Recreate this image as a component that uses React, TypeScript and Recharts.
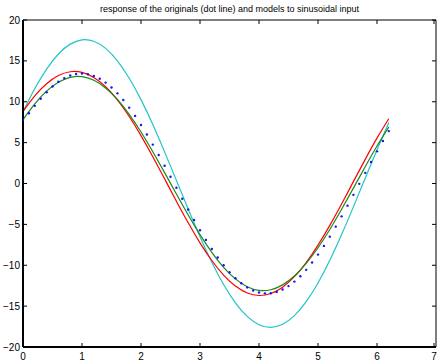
import { LineChart, Line, XAxis, YAxis, ReferenceArea } from "recharts";

const xTicks = [0, 1, 2, 3, 4, 5, 6, 7];
const yTicks = [-20, -15, -10, -5, 0, 5, 10, 15, 20];

// sample positions of the model curves
const lineX = [
  0, 0.2, 0.4, 0.6, 0.8, 1, 1.2, 1.4, 1.6, 1.8, 2, 2.2, 2.4, 2.6, 2.8, 3,
  3.2, 3.4, 3.6, 3.8, 4, 4.2, 4.4, 4.6, 4.8, 5, 5.2, 5.4, 5.6, 5.8, 6, 6.2
];

const cyanModel = [
  8.75, 11.61, 14.0, 15.84, 17.05, 17.58, 17.4, 16.53, 15.01, 12.88, 10.26, 7.22, 3.87, 0.38,
  -3.12, -6.5, -9.62, -12.36, -14.6, -16.26, -17.27, -17.6, -17.22, -16.16, -14.45, -12.17,
  -9.4, -6.25, -2.86, 0.65, 4.13, 7.45
];

const redModel = [
  8.83, 10.73, 12.21, 13.2, 13.67, 13.59, 12.96, 11.83, 10.22, 8.2, 5.86, 3.28, 0.57, -2.16,
  -4.81, -7.26, -9.42, -11.21, -12.55, -13.39, -13.7, -13.46, -12.68, -11.4, -9.67, -7.54,
  -5.12, -2.5, 0.23, 2.95, 5.55, 7.92
];

const greenModel = [
  7.82, 9.75, 11.3, 12.39, 12.99, 13.07, 12.62, 11.69, 10.28, 8.45, 6.3, 3.89, 1.33, -1.29,
  -3.85, -6.26, -8.42, -10.25, -11.67, -12.62, -13.07, -13.0, -12.4, -11.32, -9.78, -7.86,
  -5.62, -3.15, -0.57, 2.05, 4.58, 6.92
];

// the original response (dots)
const dotX = [
  0, 0.1, 0.2, 0.3, 0.4, 0.5, 0.6, 0.7, 0.8, 0.9, 1, 1.1, 1.2, 1.3, 1.4, 1.5, 1.6, 1.7, 1.8,
  1.9, 2, 2.1, 2.2, 2.3, 2.4, 2.5, 2.6, 2.7, 2.8, 2.9, 3, 3.1, 3.2, 3.3, 3.4, 3.5, 3.6, 3.7,
  3.8, 3.9, 4, 4.1, 4.2, 4.3, 4.4, 4.5, 4.6, 4.7, 4.8, 4.9, 5, 5.1, 5.2, 5.3, 5.4, 5.5, 5.6,
  5.7, 5.8, 5.9, 6, 6.1, 6.2
];

const original = [
  7.8, 8.6, 9.5, 10.37, 11.16, 11.86, 12.44, 12.89, 13.21, 13.4, 13.45, 13.37, 13.16, 12.81,
  12.34, 11.75, 11.03, 10.21, 9.28, 8.27, 7.16, 5.99, 4.76, 3.48, 2.17, 0.83, -0.52, -1.86,
  -3.18, -4.47, -5.71, -6.9, -8.01, -9.05, -10.0, -10.85, -11.59, -12.21, -12.71, -13.09,
  -13.33, -13.44, -13.42, -13.26, -12.97, -12.55, -12.0, -11.34, -10.56, -9.67, -8.7, -7.63,
  -6.5, -5.28, -4.02, -2.71, -1.39, -0.04, 1.3, 2.63, 3.93, 5.2, 6.41
];

const toRows = (xs: number[], ys: number[]) => xs.map((x, i) => ({ x, y: ys[i] }));

const W = 438;
const H = 364;
const PLOT_LEFT = 23;
const PLOT_RIGHT = 436;
const PLOT_TOP = 20;
const PLOT_BOTTOM = 347;
const FONT = "'Liberation Sans', Arial, sans-serif";

const fmt = (v: number) => (v < 0 ? "\u2212" + Math.abs(v) : String(v));

function XTick(props: any) {
  const { x, payload } = props;
  return (
    <g>
      <line x1={x} x2={x} y1={PLOT_BOTTOM} y2={PLOT_BOTTOM - 4} stroke="#000" />
      <line x1={x} x2={x} y1={PLOT_TOP} y2={PLOT_TOP + 4} stroke="#000" />
      <text x={x} y={PLOT_BOTTOM + 9} textAnchor="middle" dominantBaseline="central"
        fontSize={10} fontFamily={FONT} fill="#000">
        {payload.value}
      </text>
    </g>
  );
}

function YTick(props: any) {
  const { y, payload } = props;
  return (
    <g>
      <line x1={PLOT_LEFT} x2={PLOT_LEFT + 4} y1={y} y2={y} stroke="#000" />
      <line x1={PLOT_RIGHT} x2={PLOT_RIGHT - 4} y1={y} y2={y} stroke="#000" />
      <text x={PLOT_LEFT - 3} y={y} textAnchor="end" dominantBaseline="central"
        fontSize={10} fontFamily={FONT} fill="#000">
        {fmt(payload.value)}
      </text>
    </g>
  );
}

export default function App() {
  return (
    <div style={{ position: "absolute", left: 0, top: 0, width: W, height: H, background: "#fff" }}>
      <div
        style={{
          position: "absolute",
          left: PLOT_LEFT,
          top: 4,
          width: PLOT_RIGHT - PLOT_LEFT,
          textAlign: "center",
          fontFamily: FONT,
          fontSize: 9,
          lineHeight: "11px",
          color: "#000"
        }}
      >
        response of the originals (dot line) and models to sinusoidal input
      </div>
      <LineChart width={W} height={H} margin={{ top: PLOT_TOP, right: W - PLOT_RIGHT, bottom: 0, left: 0 }}>
        <XAxis
          type="number"
          dataKey="x"
          domain={[0, 7]}
          ticks={xTicks}
          height={H - PLOT_BOTTOM}
          axisLine={{ stroke: "#000", strokeWidth: 2 }}
          tickLine={false}
          tick={<XTick />}
          allowDataOverflow
        />
        <YAxis
          type="number"
          dataKey="y"
          domain={[-20, 20]}
          ticks={yTicks}
          width={PLOT_LEFT}
          axisLine={{ stroke: "#000", strokeWidth: 2 }}
          tickLine={false}
          tick={<YTick />}
          allowDataOverflow
        />
        <ReferenceArea x1={0} x2={7} y1={-20} y2={20} fill="none" stroke="#000" strokeWidth={1} />
        <Line data={toRows(lineX, cyanModel)} dataKey="y" type="natural" stroke="#22c4c4"
          strokeWidth={1.2} dot={false} isAnimationActive={false} />
        <Line data={toRows(lineX, redModel)} dataKey="y" type="natural" stroke="#ff0000"
          strokeWidth={1.2} dot={false} isAnimationActive={false} />
        <Line data={toRows(lineX, greenModel)} dataKey="y" type="natural" stroke="#1a8a1a"
          strokeWidth={1.2} dot={false} isAnimationActive={false} />
        <Line data={toRows(dotX, original)} dataKey="y" stroke="none"
          dot={{ r: 1.2, fill: "#1414ff", stroke: "none" }} isAnimationActive={false} />
      </LineChart>
    </div>
  );
}
